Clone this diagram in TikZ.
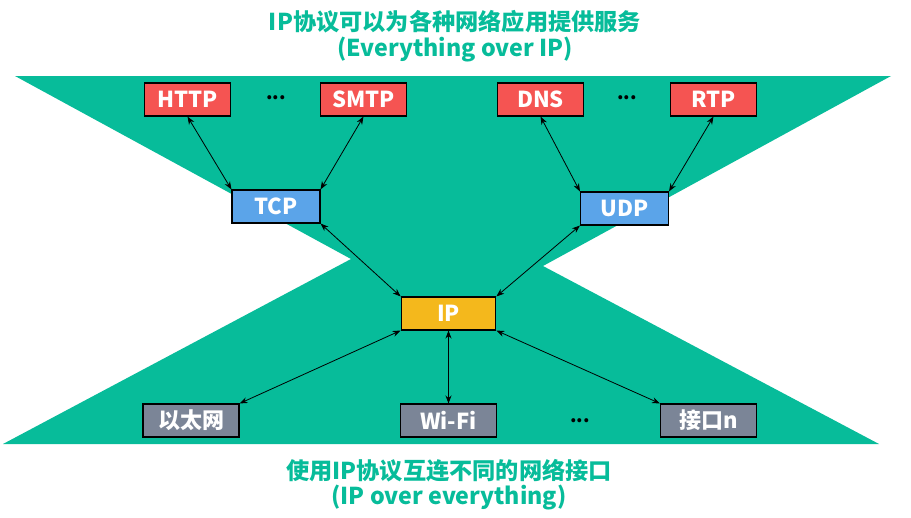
\documentclass[tikz,border=0pt]{standalone}
\usepackage{fontspec}
\setmainfont{Noto Sans CJK SC}
\usetikzlibrary{arrows.meta}
\definecolor{hgreen}{HTML}{07BC9A}
\definecolor{appred}{HTML}{F55452}
\definecolor{tpblue}{HTML}{5BA4E9}
\definecolor{ipyellow}{HTML}{F4B81C}
\definecolor{ifgray}{HTML}{7B8597}
\begin{document}
\begin{tikzpicture}[x=0.75pt, y=-0.75pt,
    box/.style={draw=black, line width=0.8pt, text=white, font=\fontsize{16.5}{18}\selectfont\bfseries,
      minimum height=24.75pt, inner sep=0pt},
    appbox/.style={box, fill=appred, minimum width=64.5pt},
    tpbox/.style={box, fill=tpblue, minimum width=66pt},
    ipbox/.style={box, fill=ipyellow, minimum width=71pt},
    ifbox/.style={box, fill=ifgray, minimum width=72pt},
    dots/.style={font=\fontsize{14}{16}\selectfont\bfseries},
    title/.style={text=hgreen, font=\fontsize{17.4}{20}\selectfont\bfseries},
    link/.style={{Stealth[length=6pt,width=4.5pt]}-{Stealth[length=6pt,width=4.5pt]}, line width=0.6pt}]
    \useasboundingbox (0,0) rectangle (911,518);

    % Hourglass background
    \fill[hgreen] (15,76) -- (891,76) -- (543,266) -- (879,444) -- (3,444) -- (351,259) -- cycle;

    % Headings
    \node[title] (toptitle) at (455,22) {IP协议可以为各种网络应用提供服务};
    \node[title] (topsub) at (455,50) {(Everything over IP)};
    \node[title] (bottitle) at (449,471) {使用IP协议互连不同的网络接口};
    \node[title] (botsub) at (449,498) {(IP over everything)};

    % Application layer
    \node[appbox] (http) at (187.5,99.5) {HTTP};
    \node[dots] (adots1) at (276,98) {...};
    \node[appbox] (smtp) at (363.5,99.5) {SMTP};
    \node[appbox] (dns) at (540.5,99.5) {DNS};
    \node[dots] (adots2) at (627,98) {...};
    \node[appbox] (rtp) at (713.5,99.5) {RTP};

    % Transport layer
    \node[tpbox] (tcp) at (276,206.5) {TCP};
    \node[tpbox] (udp) at (624.5,208.5) {UDP};

    % Network layer
    \node[ipbox] (ip) at (448.5,313.5) {IP};

    % Network interfaces
    \node[ifbox] (eth) at (191,420.5) {以太网};
    \node[ifbox] (wifi) at (448.5,420.5) {Wi-Fi};
    \node[dots] (ifdots) at (580,421) {...};
    \node[ifbox] (ifn) at (708.5,420.5) {接口n};

    % Links
    \draw[link] (http.south) -- (tcp.north west);
    \draw[link] (smtp.south) -- (tcp.north east);
    \draw[link] (dns.south) -- (udp.north west);
    \draw[link] (rtp.south) -- (udp.north east);
    \draw[link] (tcp.south east) -- (ip.north west);
    \draw[link] (udp.south west) -- (ip.north east);
    \draw[link] (ip.south west) -- (eth.north east);
    \draw[link] (ip.south) -- (wifi.north);
    \draw[link] (ip.south east) -- (ifn.north west);
  \end{tikzpicture}
\end{document}
